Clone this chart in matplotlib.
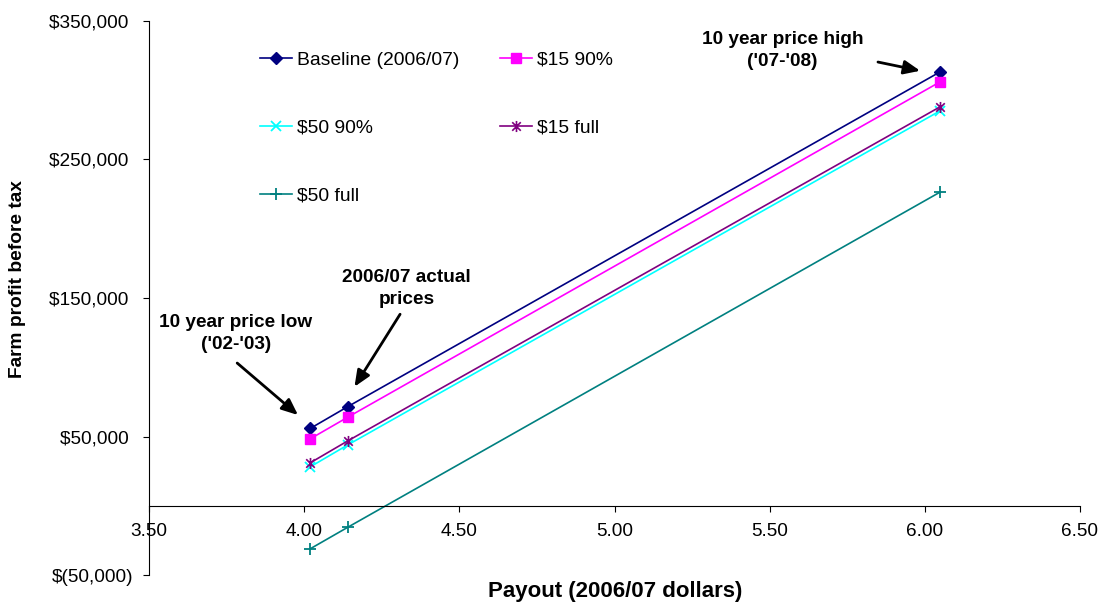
import numpy as np
import matplotlib
matplotlib.use("Agg")
import matplotlib.pyplot as plt
from matplotlib.path import Path
from matplotlib.ticker import FuncFormatter

plt.rcParams['font.family'] = ['Liberation Sans', 'DejaVu Sans']

# payout values (x) and farm profit per scenario (y)
payout = [4.02, 4.14, 6.05]
baseline = [56000, 71600, 313200]
p15_90 = [48500, 64000, 306000]
p50_90 = [28300, 44000, 285100]
p15_full = [31200, 46900, 288000]
p50_full = [-30800, -15400, 226500]

series_names = ["Baseline (2006/07)", "$15 90%", "$50 90%", "$15 full", "$50 full"]
yticks = [-50000, 50000, 150000, 250000, 350000]
xticks = [3.5, 4.0, 4.5, 5.0, 5.5, 6.0, 6.5]

# Excel style star: x with a vertical bar
star = Path([(-1, -1), (1, 1), (-1, 1), (1, -1), (0, -1.3), (0, 1.3)],
            [Path.MOVETO, Path.LINETO, Path.MOVETO, Path.LINETO, Path.MOVETO, Path.LINETO])

styles = [
    dict(color="#000080", marker="D", ms=6),
    dict(color="#FF00FF", marker="s", ms=6.5),
    dict(color="#00FFFF", marker="x", ms=7, mew=1.3),
    dict(color="#800080", marker=star, ms=8, mew=1.2),
    dict(color="#008080", marker="+", ms=8, mew=1.3),
]

def money(v, pos):
    if v < 0:
        return f"$({abs(v):,.0f})"
    return f"${v:,.0f} "

fig = plt.figure(figsize=(11, 6.04), dpi=100)
ax = fig.add_axes([0.1355, 0.0475, 0.8463, 0.9182])

handles = []
for vals, name, st in zip([baseline, p15_90, p50_90, p15_full, p50_full], series_names, styles):
    h, = ax.plot(payout, vals, lw=1.2, label=name, **st)
    handles.append(h)

ax.set_xlim(3.5, 6.5)
ax.set_ylim(-50000, 350000)
ax.set_xticks(xticks)
ax.set_xticklabels([f"{x:.2f}" for x in xticks])
ax.set_yticks(yticks)
ax.yaxis.set_major_formatter(FuncFormatter(money))

ax.spines['top'].set_visible(False)
ax.spines['right'].set_visible(False)
ax.spines['bottom'].set_position(('data', 0))
ax.tick_params(axis='x', direction='out', length=4.5, pad=8, labelsize=13.7)
ax.tick_params(axis='y', direction='out', length=4.5, pad=6.5, labelsize=13.7)

fig.text(615 / 1100, 1 - 592 / 604, "Payout (2006/07 dollars)", ha='center', va='center',
         fontsize=16, fontweight='bold')
fig.text(18 / 1100, 1 - 279 / 604, "Farm profit before tax", ha='center', va='center',
         rotation=90, fontsize=13.8, fontweight='bold')

order = [0, 2, 4, 1, 3]
ax.legend([handles[i] for i in order], [series_names[i] for i in order], ncol=2,
          loc='upper left', bbox_to_anchor=(260 / 1100, 1 - 51 / 604), bbox_transform=fig.transFigure,
          frameon=False, fontsize=13.9, labelspacing=2.62, handlelength=1.66,
          handletextpad=0.26, columnspacing=2.1, borderpad=0, borderaxespad=0)

notes = [
    ("10 year price high\n('07-'08)", (5.541, 328600), (5.849, 320200), (5.985, 313900)),
    ("2006/07 actual\nprices", (4.330, 157000), (4.309, 138300), (4.162, 86000)),
    ("10 year price low\n('02-'03)", (3.780, 124400), (3.784, 103100), (3.980, 65600)),
]
for txt, pos, tail, head in notes:
    ax.text(pos[0], pos[1], txt, ha='center', va='center', fontsize=13.7,
            fontweight='bold', linespacing=1.35)
    ax.annotate("", xy=head, xytext=tail,
                arrowprops=dict(arrowstyle="-|>,head_length=0.7,head_width=0.3",
                                color="black", lw=2, mutation_scale=14,
                                shrinkA=0, shrinkB=0))

fig.savefig("out.png", dpi=100)
